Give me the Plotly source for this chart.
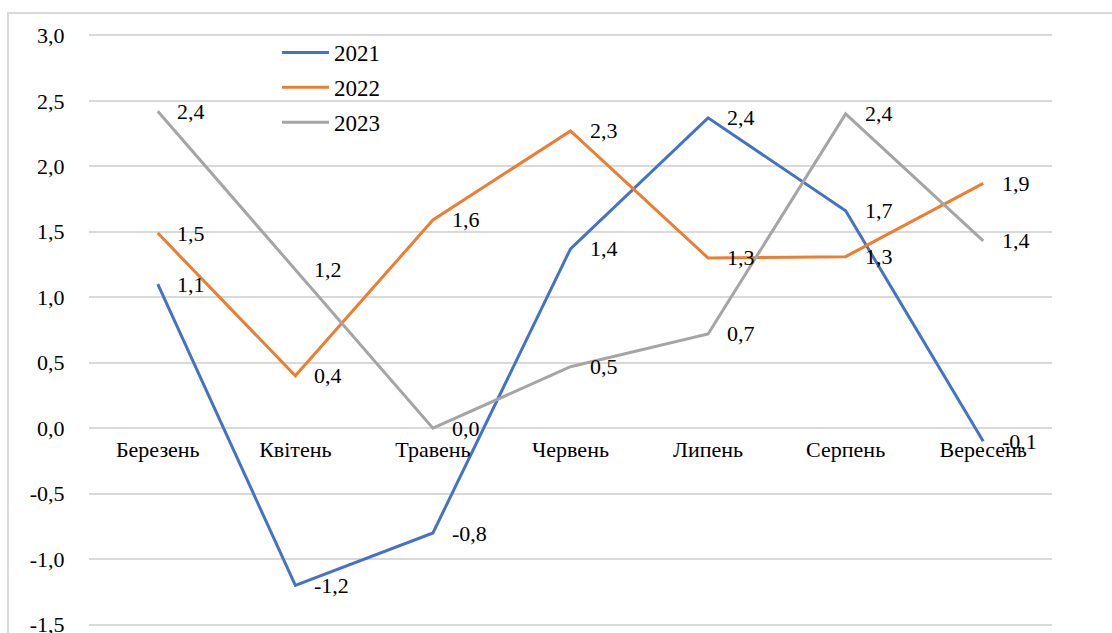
import plotly.graph_objects as go

months = ["Березень", "Квітень", "Травень", "Червень", "Липень", "Серпень", "Вересень"]
y2021 = [1.1, -1.2, -0.8, 1.37, 2.37, 1.66, -0.1]
y2022 = [1.49, 0.4, 1.59, 2.27, 1.3, 1.31, 1.87]
y2023 = [2.42, 1.21, 0.0, 0.47, 0.72, 2.4, 1.43]
series_names = ["2021", "2022", "2023"]
colors = ["#4472C4", "#ED7D31", "#A5A5A5"]
ytick_vals = [3.0, 2.5, 2.0, 1.5, 1.0, 0.5, 0.0, -0.5, -1.0, -1.5]

FONT = "Liberation Serif, Times New Roman, serif"
FS = 22

def fmt(v):
    return f"{v:.1f}".replace(".", ",")

fig = go.Figure()
annotations = []
for name, vals, col in zip(series_names, [y2021, y2022, y2023], colors):
    fig.add_trace(go.Scatter(
        x=months, y=vals, mode="lines", name=name, legendgroup=name,
        line=dict(color=col, width=3),
    ))
    for m, v in zip(months, vals):
        annotations.append(dict(
            x=m, y=v, xref="x", yref="y", text=fmt(v), showarrow=False,
            xanchor="left", yanchor="middle", xshift=17,
            font=dict(family=FONT, size=FS, color="#000000"),
        ))

W, H = 1112, 633
L, R, T, B = 89, 60, 34, 7
pw, ph = W - L - R, H - T - B

def px_x(px):
    return (px - L) / pw

def px_y(py):
    return (H - B - py) / ph

fig.update_layout(
    width=W, height=H,
    margin=dict(l=L, r=R, t=T, b=B, autoexpand=False),
    paper_bgcolor="white", plot_bgcolor="white",
    font=dict(family=FONT, size=FS, color="#000000"),
    showlegend=True,
    legend=dict(
        x=px_x(277), y=px_y(31), xanchor="left", yanchor="top",
        bgcolor="rgba(0,0,0,0)", font=dict(family=FONT, size=23, color="#000000"),
        tracegroupgap=2, traceorder="grouped", itemwidth=47,
    ),
    annotations=annotations,
    shapes=[dict(
        type="rect", xref="paper", yref="paper",
        x0=px_x(8), x1=px_x(1120), y0=px_y(640), y1=px_y(13),
        line=dict(color="#d9d9d9", width=2), fillcolor="rgba(0,0,0,0)", layer="below",
    )],
    xaxis=dict(
        type="category", range=[-0.5, 6.5], showgrid=False, zeroline=False,
        showline=False, anchor="free", position=1.51/4.52, automargin=False,
        ticks="outside", ticklen=1, tickcolor="rgba(0,0,0,0)",
        tickfont=dict(family=FONT, size=FS, color="#000000"),
    ),
    yaxis=dict(
        range=[-1.51, 3.01], tickvals=ytick_vals, ticktext=[fmt(v) for v in ytick_vals],
        showgrid=True, gridcolor="#d9d9d9", gridwidth=1.5, zeroline=False, showline=False,
        ticks="outside", ticklen=19, tickcolor="rgba(0,0,0,0)", ticklabeloverflow="allow",
        automargin=False,
        tickfont=dict(family=FONT, size=FS, color="#000000"),
    ),
)

fig.write_html("out.html")
